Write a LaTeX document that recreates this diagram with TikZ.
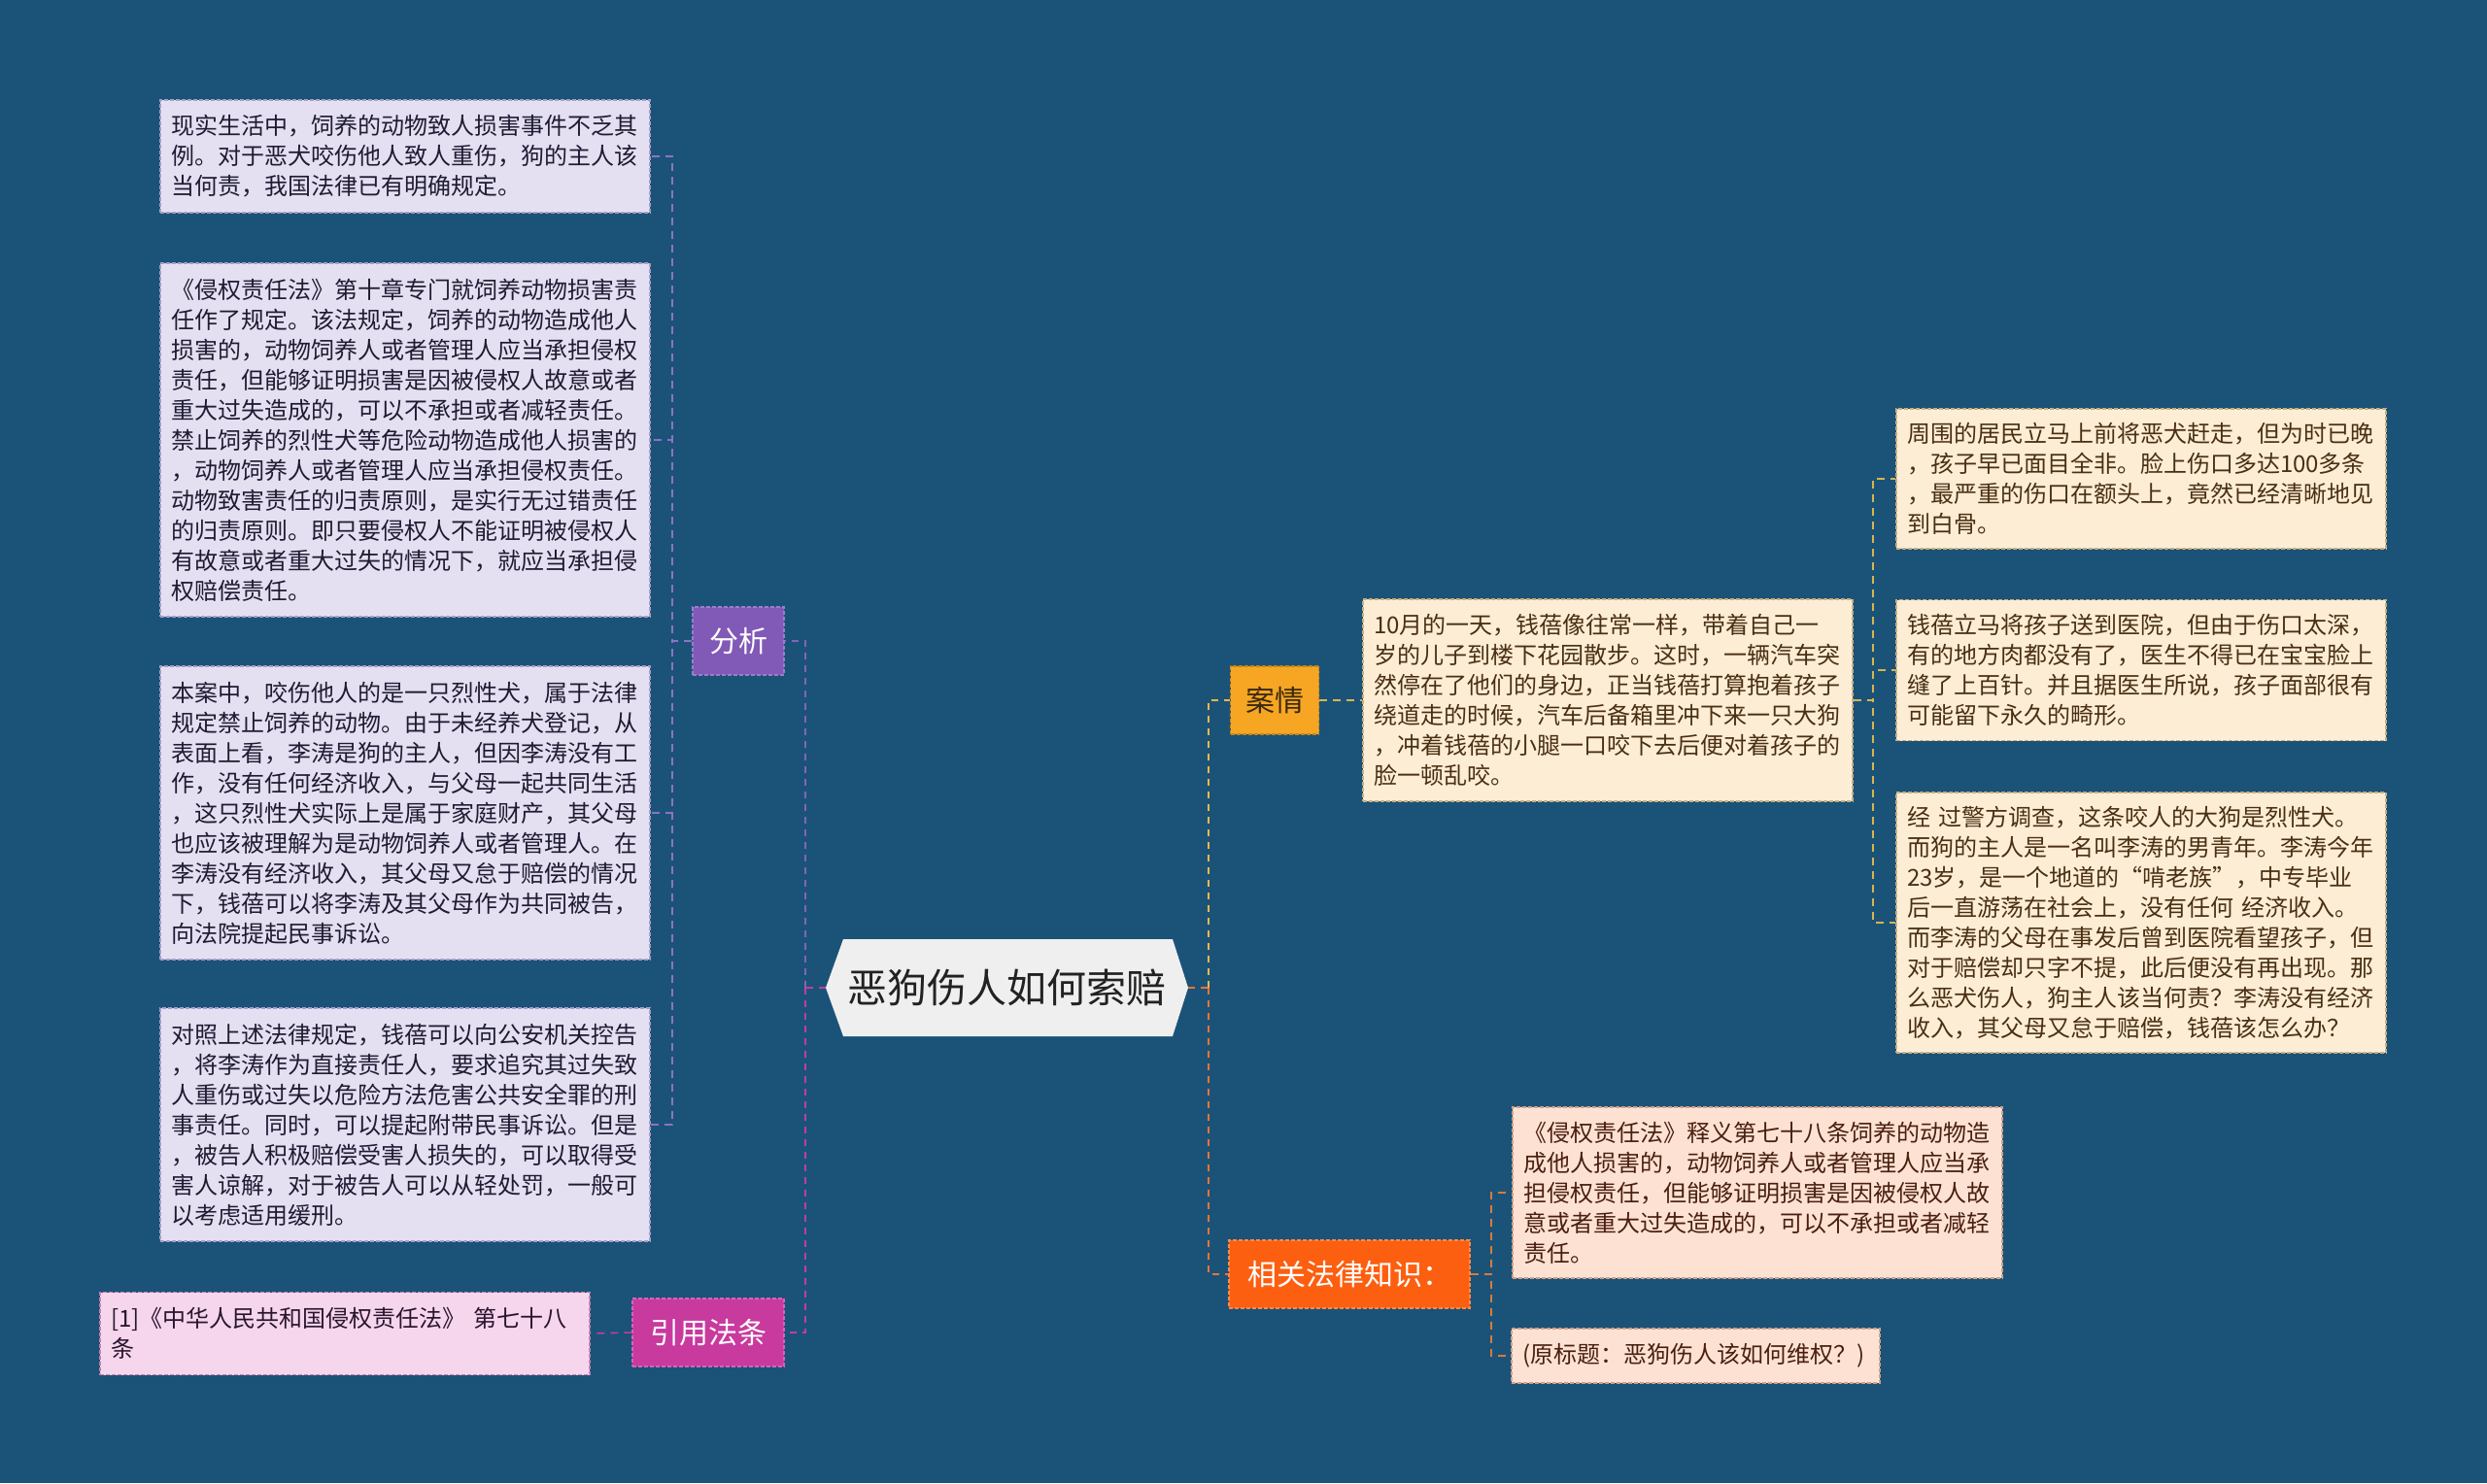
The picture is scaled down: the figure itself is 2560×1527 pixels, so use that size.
\documentclass[tikz,border=0pt]{standalone}
\usepackage{fontspec}
\setmainfont{Noto Sans CJK SC}
\definecolor{bg}{HTML}{1B5378}
\definecolor{rootfill}{HTML}{EFEFEF}
\definecolor{roottext}{HTML}{222222}
\definecolor{purC}{HTML}{8562BE}
\definecolor{purSub}{HTML}{8E72C6}
\definecolor{magC}{HTML}{C43C9E}
\definecolor{goldC}{HTML}{E8B84E}
\definecolor{goldSub}{HTML}{D9B450}
\definecolor{orgC}{HTML}{E8743A}
\definecolor{orgSub}{HTML}{D77A3C}
\definecolor{fxfill}{HTML}{8159B6}
\definecolor{fxborder}{HTML}{9C7DCC}
\definecolor{yyfill}{HTML}{C93A9E}
\definecolor{yyborder}{HTML}{DB62B6}
\definecolor{aqfill}{HTML}{F6A623}
\definecolor{aqborder}{HTML}{C98516}
\definecolor{aqtext}{HTML}{3A2A10}
\definecolor{xgfill}{HTML}{FC5F10}
\definecolor{xgborder}{HTML}{FF8A4A}
\definecolor{lvfill}{HTML}{E5E0F1}
\definecolor{lvborder}{HTML}{A89CC8}
\definecolor{lvtext}{HTML}{1E1B33}
\definecolor{pkfill}{HTML}{F5D6EC}
\definecolor{pkborder}{HTML}{C77FB2}
\definecolor{pktext}{HTML}{2A1530}
\definecolor{crfill}{HTML}{FDEDD5}
\definecolor{crborder}{HTML}{C9AE80}
\definecolor{crtext}{HTML}{4A2F12}
\definecolor{pcfill}{HTML}{FDE2D3}
\definecolor{pcborder}{HTML}{D2A088}
\definecolor{pctext}{HTML}{4A1F10}
\begin{document}
\begin{tikzpicture}[x=0.5pt,y=-0.5pt,
  leaf/.style={draw, dash pattern=on 2pt off 1pt, line width=0.6pt, text width=241pt, align=left,
    inner xsep=5.5pt, inner ysep=0pt, font=\fontsize{12pt}{15.5pt}\selectfont},
  lleaf/.style={leaf, fill=lvfill, draw=lvborder, text=lvtext},
  pleaf/.style={leaf, fill=pkfill, draw=pkborder, text=pktext},
  cleaf/.style={leaf, fill=crfill, draw=crborder, text=crtext},
  sleaf/.style={leaf, fill=pcfill, draw=pcborder, text=pctext},
  cat/.style={draw, dash pattern=on 2pt off 1pt, line width=0.6pt, minimum height=35pt, inner sep=0pt,
    font=\fontsize{15pt}{18pt}\selectfont},
  conn/.style={line width=1.1pt, dash pattern=on 3.5pt off 3pt},
  subconn/.style={line width=0.8pt, dash pattern=on 4pt off 3pt}
]
\useasboundingbox (0,0) rectangle (2560,1527);
\fill[bg] (0,0) rectangle (2560,1527);

% central topic
\fill[rootfill] (850,1017) -- (868,967) -- (1207,967) -- (1223,1017) -- (1207,1067) -- (868,1067) -- cycle;
\node[minimum width=186.5pt, minimum height=50pt, inner sep=0pt, text=roottext,
  font=\fontsize{20.5pt}{24pt}\selectfont] (root) at (1036.5,1017) {恶狗伤人如何索赔};

% left categories
\node[cat, fill=fxfill, draw=fxborder, text=white, minimum width=47pt] (fx) at (760,660) {分析};
\node[cat, fill=yyfill, draw=yyborder, text=white, minimum width=78pt] (yy) at (729,1372) {引用法条};

% right categories
\node[cat, fill=aqfill, draw=aqborder, text=aqtext, minimum width=45.5pt] (aq) at (1312,721) {案情};
\node[cat, fill=xgfill, draw=xgborder, text=white, minimum width=124pt] (xg) at (1389,1312) {相关法律知识：};

% left leaves
\node[lleaf, minimum height=58pt] (b1) at (417,161) {现实生活中，饲养的动物致人损害事件不乏其\\例。对于恶犬咬伤他人致人重伤，狗的主人该\\当何责，我国法律已有明确规定。};
\node[lleaf, minimum height=182pt] (b2) at (417,453) {《侵权责任法》第十章专门就饲养动物损害责\\任作了规定。该法规定，饲养的动物造成他人\\损害的，动物饲养人或者管理人应当承担侵权\\责任，但能够证明损害是因被侵权人故意或者\\重大过失造成的，可以不承担或者减轻责任。\\禁止饲养的烈性犬等危险动物造成他人损害的\\，动物饲养人或者管理人应当承担侵权责任。\\动物致害责任的归责原则，是实行无过错责任\\的归责原则。即只要侵权人不能证明被侵权人\\有故意或者重大过失的情况下，就应当承担侵\\权赔偿责任。};
\node[lleaf, minimum height=151pt] (b3) at (417,837) {本案中，咬伤他人的是一只烈性犬，属于法律\\规定禁止饲养的动物。由于未经养犬登记，从\\表面上看，李涛是狗的主人，但因李涛没有工\\作，没有任何经济收入，与父母一起共同生活\\，这只烈性犬实际上是属于家庭财产，其父母\\也应该被理解为是动物饲养人或者管理人。在\\李涛没有经济收入，其父母又怠于赔偿的情况\\下，钱蓓可以将李涛及其父母作为共同被告，\\向法院提起民事诉讼。};
\node[lleaf, minimum height=120pt] (b4) at (417,1158) {对照上述法律规定，钱蓓可以向公安机关控告\\，将李涛作为直接责任人，要求追究其过失致\\人重伤或过失以危险方法危害公共安全罪的刑\\事责任。同时，可以提起附带民事诉讼。但是\\，被告人积极赔偿受害人损失的，可以取得受\\害人谅解，对于被告人可以从轻处罚，一般可\\以考虑适用缓刑。};
\node[pleaf, minimum height=42.5pt] (yc) at (355,1373) {[1]《中华人民共和国侵权责任法》~第七十八\\条};

% right leaves
\node[cleaf, minimum height=104pt] (at) at (1655,721) {10月的一天，钱蓓像往常一样，带着自己一\\岁的儿子到楼下花园散步。这时，一辆汽车突\\然停在了他们的身边，正当钱蓓打算抱着孩子\\绕道走的时候，汽车后备箱里冲下来一只大狗\\，冲着钱蓓的小腿一口咬下去后便对着孩子的\\脸一顿乱咬。};
\node[cleaf, minimum height=72pt] (r1) at (2204,493) {周围的居民立马上前将恶犬赶走，但为时已晚\\，孩子早已面目全非。脸上伤口多达100多条\\，最严重的伤口在额头上，竟然已经清晰地见\\到白骨。};
\node[cleaf, minimum height=72.5pt] (r2) at (2204,690) {钱蓓立马将孩子送到医院，但由于伤口太深，\\有的地方肉都没有了，医生不得已在宝宝脸上\\缝了上百针。并且据医生所说，孩子面部很有\\可能留下永久的畸形。};
\node[cleaf, minimum height=134pt] (r3) at (2204,950) {经~过警方调查，这条咬人的大狗是烈性犬。\\而狗的主人是一名叫李涛的男青年。李涛今年\\23岁，是一个地道的“啃老族”，中专毕业\\后一直游荡在社会上，没有任何~经济收入。\\而李涛的父母在事发后曾到医院看望孩子，但\\对于赔偿却只字不提，此后便没有再出现。那\\么恶犬伤人，狗主人该当何责？李涛没有经济\\收入，其父母又怠于赔偿，钱蓓该怎么办？};
\node[sleaf, minimum height=88pt] (l1) at (1809,1228) {《侵权责任法》释义第七十八条饲养的动物造\\成他人损害的，动物饲养人或者管理人应当承\\担侵权责任，但能够证明损害是因被侵权人故\\意或者重大过失造成的，可以不承担或者减轻\\责任。};
\node[sleaf, minimum height=28pt, text width=178.5pt] (l2) at (1745.5,1396) {(原标题：恶狗伤人该如何维权？)};

% junction points
\coordinate (lj) at (829,1017);
\coordinate (rj) at (1244,1017);
\coordinate (fj) at (692,660);
\coordinate (aj) at (1928,721);
\coordinate (xj) at (1535,1312);

% main connectors
\draw[conn, magC] (root.west) -- (lj);
\draw[conn, purC] (lj) |- (fx.east);
\draw[conn, magC] (lj) |- (yy.east);
\draw[conn, orgC] (root.east) -- (rj);
\draw[conn, goldC] (rj) |- (aq.west);
\draw[conn, orgC] (rj) |- (xg.west);

% sub connectors
\draw[subconn, purSub] (fx.west) -- (fj) |- (b1.east);
\draw[subconn, purSub] (fx.west) -- (fj) |- (b2.east);
\draw[subconn, purSub] (fx.west) -- (fj) |- (b3.east);
\draw[subconn, purSub] (fx.west) -- (fj) |- (b4.east);
\draw[subconn, magC] (yy.west) -- (yc.east);
\draw[subconn, goldSub] (aq.east) -- (at.west);
\draw[subconn, goldSub] (at.east) -- (aj) |- (r1.west);
\draw[subconn, goldSub] (at.east) -- (aj) |- (r2.west);
\draw[subconn, goldSub] (at.east) -- (aj) |- (r3.west);
\draw[subconn, orgSub] (xg.east) -- (xj) |- (l1.west);
\draw[subconn, orgSub] (xg.east) -- (xj) |- (l2.west);
\end{tikzpicture}
\end{document}
